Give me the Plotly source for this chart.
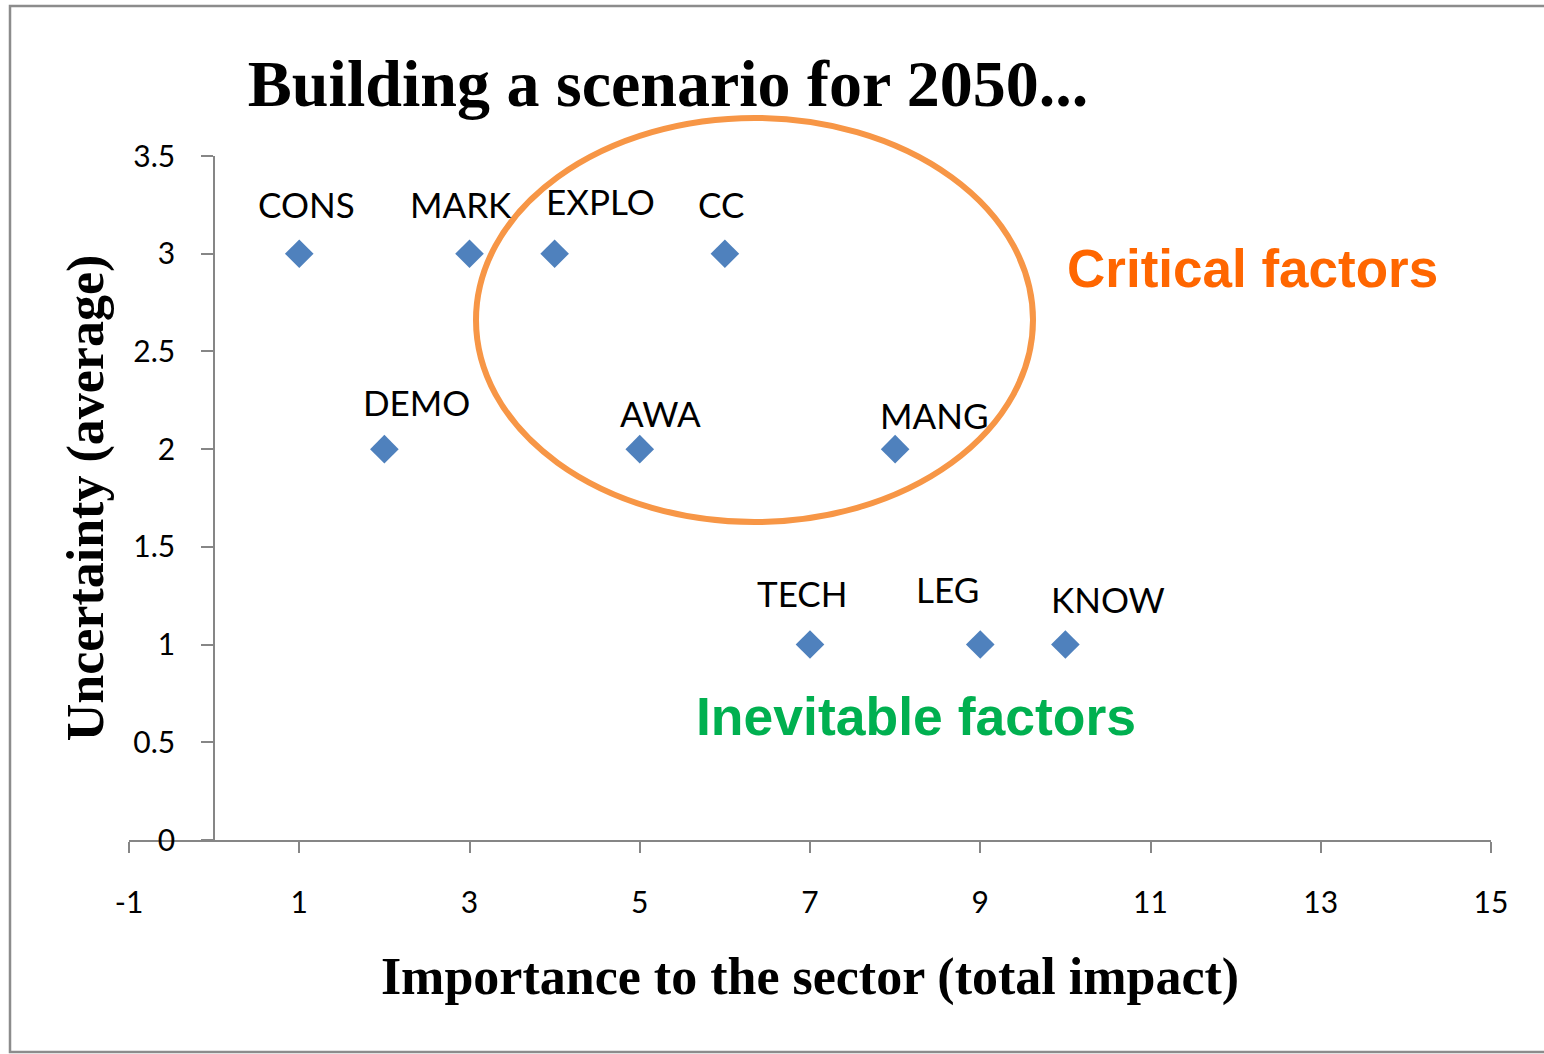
import plotly.graph_objects as go

# ---- data ----
factors = ["CONS", "MARK", "EXPLO", "CC", "DEMO", "AWA", "MANG", "TECH", "LEG", "KNOW"]
importance = [1, 3, 4, 6, 2, 5, 8, 7, 9, 10]
uncertainty = [3, 3, 3, 3, 2, 2, 2, 1, 1, 1]
x_ticks = [-1, 1, 3, 5, 7, 9, 11, 13, 15]
x_tick_labels = ["-1", "1", "3", "5", "7", "9", "11", "13", "15"]
y_ticks = [0, 0.5, 1, 1.5, 2, 2.5, 3, 3.5]
y_tick_labels = ["0", "0.5", "1", "1.5", "2", "2.5", "3", "3.5"]

# label offsets in pixels (manual label placement as in the original)
label_dx = [7, -9, 46, -4, 32, 21, 39, -8, -33, 43]
label_dy = [50, 50, 53, 50, 47, 36, 34, 52, 56, 46]

W, H = 1544, 1054
PL, PR, PT, PB = 129, 1491, 156, 840          # plot area in px
ML, MR, MT, MB = PL, W - PR, PT, H - PB
pw, ph = PR - PL, PB - PT

def px(xs):
    return (xs - PL) / pw

def py(ys):
    return (PB - ys) / ph

axis_col = "#868686"

fig = go.Figure()
fig.add_trace(go.Scatter(
    x=importance, y=uncertainty, mode="markers",
    marker=dict(symbol="diamond", size=22, color="#4F81BD"),
    hoverinfo="skip", showlegend=False, cliponaxis=False,
))

annotations = []
for name, xv, yv, dx, dy in zip(factors, importance, uncertainty, label_dx, label_dy):
    annotations.append(dict(
        x=xv, y=yv, xref="x", yref="y", text=name, showarrow=False,
        xshift=dx, yshift=dy,
        font=dict(family="Lato", size=35, color="black"),
    ))

annotations.append(dict(
    x=px(1252), y=py(268), xref="paper", yref="paper", text="<b>Critical factors</b>",
    showarrow=False, font=dict(family="Liberation Sans", size=53, color="#FF6600"),
    xanchor="center", yanchor="middle",
))
annotations.append(dict(
    x=px(916), y=py(716), xref="paper", yref="paper", text="<b>Inevitable factors</b>",
    showarrow=False, font=dict(family="Liberation Sans", size=53.5, color="#00B050"),
    xanchor="center", yanchor="middle",
))

shapes = [
    dict(type="circle", xref="paper", yref="paper",
         x0=px(476), x1=px(1033), y0=py(522), y1=py(118),
         line=dict(color="#F79646", width=6)),
    dict(type="rect", xref="paper", yref="paper",
         x0=px(10), x1=px(1700), y0=py(1052), y1=py(6),
         line=dict(color="#8C8C8C", width=2.5)),
]

fig.update_layout(
    width=W, height=H,
    margin=dict(l=ML, r=MR, t=MT, b=MB, autoexpand=False),
    paper_bgcolor="white", plot_bgcolor="white",
    title=dict(
        text="<b>Building a scenario for 2050...</b>",
        x=px(668), xref="paper", xanchor="center",
        y=1 - 83 / H, yref="container", yanchor="middle",
        font=dict(family="Liberation Serif", size=66, color="black"),
    ),
    xaxis=dict(
        range=[-1, 15], tickvals=x_ticks, ticktext=x_tick_labels,
        showgrid=False, zeroline=False,
        showline=True, linecolor=axis_col, linewidth=2,
        ticks="outside", ticklen=11, tickwidth=2, tickcolor=axis_col,
        ticklabelstandoff=24,
        tickfont=dict(family="Lato", size=30, color="black"),
        title=dict(text="<b>Importance to the sector (total impact)</b>",
                   font=dict(family="Liberation Serif", size=52, color="black"),
                   standoff=40),
    ),
    yaxis=dict(
        range=[0, 3.5], tickvals=y_ticks, ticktext=y_tick_labels,
        anchor="free", position=1 / 16, showgrid=False, zeroline=False,
        showline=True, linecolor=axis_col, linewidth=2,
        ticks="outside", ticklen=12, tickwidth=2, tickcolor=axis_col,
        ticklabelstandoff=20,
        tickfont=dict(family="Lato", size=30, color="black"),
        title=dict(text="<b>Uncertainty (average)</b>",
                   font=dict(family="Liberation Serif", size=52, color="black"),
                   standoff=12),
    ),
    annotations=annotations,
    shapes=shapes,
)

fig.write_html(
    "out.html",
    config={"displayModeBar": False},
    post_script="document.body.style.margin='0px';document.body.style.overflow='hidden';",
)
